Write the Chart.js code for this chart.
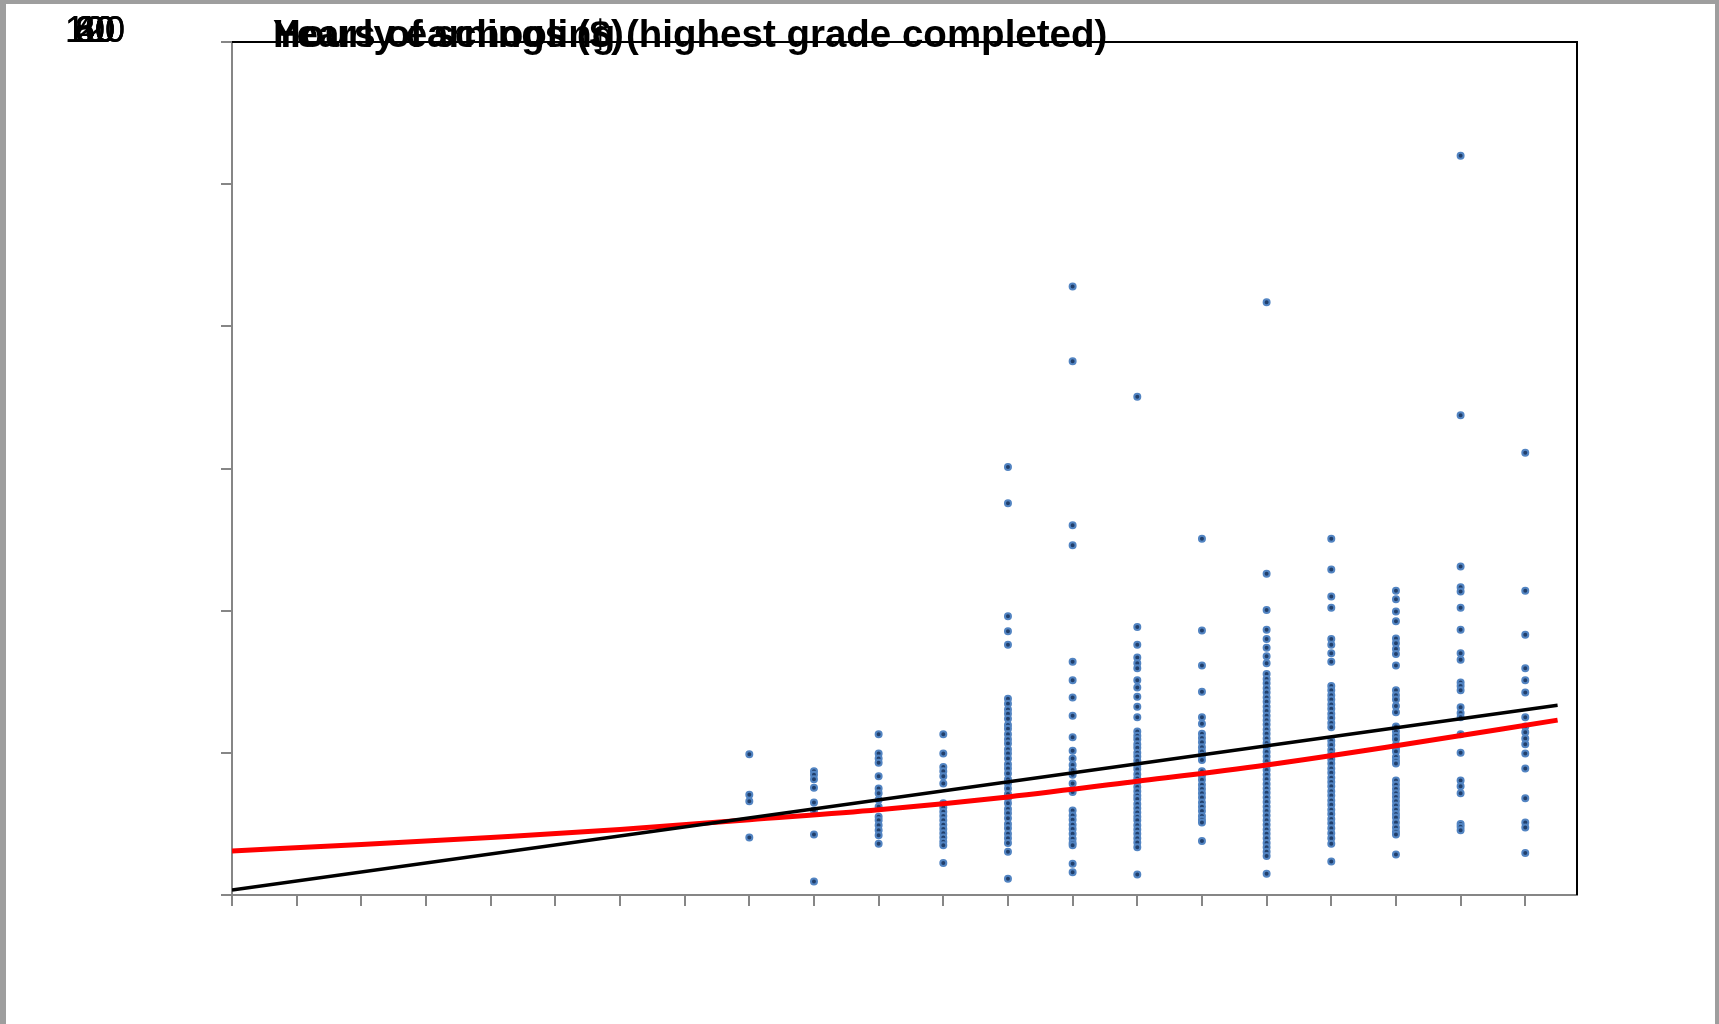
<!DOCTYPE html>
<html>
<head>
<meta charset="utf-8">
<script src="https://cdn.jsdelivr.net/npm/chart.js@4.4.1/dist/chart.umd.min.js"></script>
<style>
  html, body { margin: 0; padding: 0; background: #9e9e9e; }
  canvas { display: block; }
</style>
</head>
<body>
<canvas id="earningsChart" width="1719" height="1024"></canvas>
<script>
// axis texts (the source draws them all stacked in the top-left corner)
const yTitle = 'Hourly earnings ($)';
const xTitle = 'Years of schooling (highest grade completed)';
const yTickLabels = ['0', '20', '40', '60', '80', '100', '120'];

// hourly earnings per years of schooling
const grade8  = [19.8, 14.1, 13.2, 8.1];
const grade9  = [17.4, 16.9, 16.3, 15.1, 13.0, 11.9, 8.5, 1.9];
const grade10 = [22.6, 19.9, 19.2, 18.6, 16.7, 15.0, 14.3, 13.4, 12.4, 11.0, 10.5, 9.8, 9.1, 8.4, 7.2];
const grade11 = [22.6, 19.9, 18.0, 17.4, 16.7, 15.7, 12.9, 12.3, 11.7, 11.1, 10.5, 9.9, 9.3, 8.7, 8.1, 7.5, 7.0, 4.5];
const grade12 = [60.2, 55.1, 39.2, 37.1, 35.2, 27.6, 26.9, 26.1, 25.5, 24.8, 23.9, 23.4, 22.6, 21.9, 21.3, 20.5,
                 19.9, 19.2, 18.4, 17.8, 17.1, 16.3, 15.7, 15.0, 14.2, 13.6, 12.9, 12.1, 11.5, 10.8, 10.0, 9.4,
                 8.6, 8.0, 7.3, 6.1, 2.3];
const grade13 = [85.6, 75.1, 52.0, 49.2, 32.8, 30.2, 27.8, 25.2, 22.2, 20.3, 19.2, 18.3, 17.6, 16.9, 15.7, 14.5,
                 11.9, 11.2, 10.6, 9.9, 9.3, 8.6, 7.9, 7.3, 7.0, 4.4, 3.2];
const grade14 = [70.1, 37.7, 35.2, 33.4, 32.6, 31.9, 30.2, 29.2, 27.9, 26.5, 25.0, 23.0, 22.4, 21.9, 21.2, 20.7,
                 20.0, 19.5, 18.9, 18.2, 17.7, 17.0, 16.4, 15.9, 15.2, 14.6, 14.0, 13.5, 12.8, 12.2, 11.6, 11.0,
                 10.5, 9.8, 9.2, 8.6, 8.0, 7.4, 6.7, 2.9];
const grade15 = [50.1, 37.2, 32.3, 28.6, 25.0, 24.1, 22.7, 22.1, 21.5, 20.8, 20.2, 19.6, 19.0, 17.4, 16.8, 16.2,
                 15.5, 14.9, 14.3, 13.7, 13.0, 12.4, 11.8, 11.1, 10.6, 10.2, 7.6];
const grade16 = [83.4, 45.2, 40.1, 37.3, 36.0, 34.8, 33.6, 32.6, 31.1, 30.4, 29.8, 29.1, 28.5, 27.8, 27.2, 26.5,
                 25.9, 25.2, 24.6, 24.0, 23.3, 22.7, 22.0, 21.4, 20.8, 20.1, 19.5, 18.8, 18.2, 17.6, 16.9, 16.3,
                 15.6, 15.0, 14.4, 13.7, 13.1, 12.4, 11.8, 11.2, 10.5, 9.9, 9.2, 8.6, 8.0, 7.3, 6.7, 6.1, 5.5, 3.0];
const grade17 = [50.1, 45.8, 42.0, 40.4, 36.0, 35.2, 34.0, 32.8, 29.4, 28.8, 28.1, 27.5, 26.8, 26.2, 25.5, 24.9,
                 24.2, 23.6, 21.7, 21.1, 20.4, 19.8, 19.1, 18.5, 17.8, 17.2, 16.5, 15.9, 15.3, 14.6, 14.0, 13.3,
                 12.7, 12.0, 11.4, 10.7, 10.1, 9.4, 8.7, 8.0, 7.2, 4.7];
const grade18 = [42.8, 41.6, 39.9, 38.5, 36.1, 35.4, 34.6, 33.9, 32.3, 28.8, 28.1, 27.5, 26.6, 25.7, 23.7, 23.0,
                 22.4, 21.9, 21.1, 20.6, 20.2, 19.4, 18.9, 18.5, 16.1, 15.5, 14.9, 14.3, 13.8, 13.2, 12.6, 12.0,
                 11.4, 10.9, 10.2, 9.5, 8.9, 8.5, 5.7];
const grade19 = [104.0, 67.5, 46.2, 43.3, 42.7, 40.4, 37.3, 34.0, 33.1, 29.9, 29.4, 28.8, 26.4, 25.6, 25.0, 22.6,
                 20.0, 16.1, 15.3, 14.3, 10.0, 9.6, 9.1];
const grade20 = [62.2, 42.8, 36.6, 31.9, 30.2, 28.5, 25.0, 23.7, 22.9, 22.0, 21.2, 19.9, 17.8, 13.6, 10.2, 9.5, 5.9];

const grades   = [8, 9, 10, 11, 12, 13, 14, 15, 16, 17, 18, 19, 20];
const earnings = [grade8, grade9, grade10, grade11, grade12, grade13, grade14,
                  grade15, grade16, grade17, grade18, grade19, grade20];

// fitted lines as drawn in the picture
const linFitX = [0, 20.5];
const linFitY = [0.7, 26.7];
const expFitX = [0, 2, 4, 6, 8, 10, 12, 14, 16, 18, 20.5];
const expFitY = [6.2, 7.1, 8.1, 9.2, 10.6, 12.0, 13.8, 16.0, 18.3, 21.0, 24.6];

const scatterPoints = [];
grades.forEach((g, i) => earnings[i].forEach(v => scatterPoints.push({ x: g, y: v })));

const axisGrey = '#868686';

const framePlugin = {
  id: 'frame',
  beforeDraw(chart) {
    const { ctx, width, height } = chart;
    ctx.save();
    ctx.fillStyle = '#9e9e9e';
    ctx.fillRect(0, 0, width, height);
    ctx.fillStyle = '#ffffff';
    ctx.fillRect(6, 4, width - 10, height - 4);
    ctx.restore();
  },
  afterDraw(chart) {
    const { ctx, chartArea: { left, right, top, bottom } } = chart;
    ctx.save();
    // black top and right edges of the plot area
    ctx.strokeStyle = '#000000';
    ctx.lineWidth = 2;
    ctx.beginPath();
    ctx.moveTo(left, top); ctx.lineTo(right, top); ctx.lineTo(right, bottom);
    ctx.stroke();

    // tick labels, all stacked (centred) on top of each other
    ctx.fillStyle = '#000000';
    ctx.font = '36px "Liberation Sans", Arial, sans-serif';
    ctx.textAlign = 'center';
    ctx.textBaseline = 'alphabetic';
    yTickLabels.forEach(t => ctx.fillText(t, 95, 42));

    // both axis titles at the same spot
    ctx.font = 'bold 38.5px "Liberation Sans", Arial, sans-serif';
    ctx.textAlign = 'left';
    ctx.fillText(yTitle, 273, 47);
    ctx.fillText(xTitle, 273, 47);
    ctx.restore();
  }
};

const gridOpts = { drawOnChartArea: false, drawTicks: true, tickLength: 11, color: axisGrey, lineWidth: 2 };

new Chart(document.getElementById('earningsChart').getContext('2d'), {
  type: 'scatter',
  data: {
    datasets: [
      {
        data: linFitX.map((x, i) => ({ x, y: linFitY[i] })),
        showLine: true, borderColor: '#000000', borderWidth: 3.5,
        pointRadius: 0, order: 0
      },
      {
        data: expFitX.map((x, i) => ({ x, y: expFitY[i] })),
        showLine: true, borderColor: '#ff0000', borderWidth: 5,
        cubicInterpolationMode: 'monotone',
        pointRadius: 0, order: 0
      },
      {
        data: scatterPoints,
        pointStyle: 'circle',
        pointRadius: 3,
        pointBackgroundColor: '#213f6b',
        pointBorderColor: '#5284c2',
        pointBorderWidth: 2,
        order: 1
      }
    ]
  },
  options: {
    responsive: false,
    animation: false,
    devicePixelRatio: 1,
    layout: { padding: { left: 221, top: 42, right: 142, bottom: 118 } },
    plugins: { legend: { display: false }, tooltip: { enabled: false } },
    scales: {
      x: {
        type: 'linear', min: 0, max: 20.8,
        ticks: { display: false, stepSize: 1 },
        afterBuildTicks: s => { s.ticks = s.ticks.filter(t => Number.isInteger(t.value)); },
        afterFit: s => { s.height = 11; },
        grid: gridOpts,
        border: { color: axisGrey, width: 2 }
      },
      y: {
        min: 0, max: 120,
        ticks: { display: false, stepSize: 20 },
        afterFit: s => { s.width = 11; },
        grid: gridOpts,
        border: { color: axisGrey, width: 2 }
      }
    }
  },
  plugins: [framePlugin]
});
</script>
</body>
</html>
